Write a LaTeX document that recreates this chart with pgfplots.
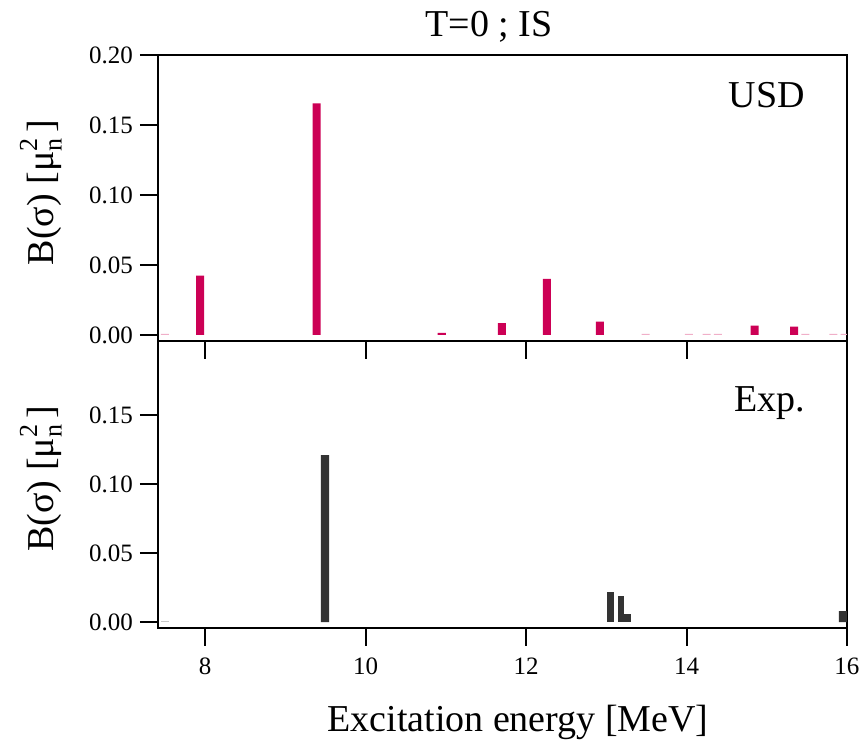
\documentclass[border=0pt]{standalone}
\usepackage{pgfplots}
\pgfplotsset{compat=1.18}
\usepackage{fontspec}
\setmainfont{Liberation Serif}

\definecolor{usd}{RGB}{204,0,85}
\definecolor{usdfaint}{RGB}{240,175,200}
\definecolor{expbar}{RGB}{51,51,51}
\definecolor{expfaint}{RGB}{200,200,200}

% B(sigma) [mu_n^2] with the 2 stacked over the n
\newcommand{\bunit}{B(σ) [μ\raisebox{-0.45ex}{\fontsize{13}{13}\selectfont n}\llap{\raisebox{0.95ex}{\fontsize{13}{13}\selectfont 2}}\,]}

\pgfplotsset{
  panel/.style={
    scale only axis, width=344.5pt,
    xmin=7.414, xmax=16,
    ymin=-0.0043,
    axis line style={line width=1.2pt},
    every tick/.style={black, line width=1pt},
    major tick length=9pt,
    tick align=outside,
    xtick={8,10,12,14,16},
    xtick pos=left, ytick pos=left,
    tick label style={font=\fontsize{12.5}{14}\selectfont},
    xticklabel style={yshift=-2.5pt},
    /pgf/number format/assume math mode=true,
    yticklabel style={/pgf/number format/.cd, fixed, fixed zerofill, precision=2},
    ylabel style={at={(axis description cs:-0.17,0.52)}, anchor=center,
      font=\fontsize{19}{21}\selectfont},
    ylabel={\bunit},
  },
}

\begin{document}
\begin{tikzpicture}
\useasboundingbox (-79pt,-58pt) rectangle (352.5pt,314pt);

% lower panel: experiment
\begin{axis}[panel,
  at={(0pt,0pt)}, anchor=south west,
  height=143.5pt,
  ymax=0.2036,
  ytick={0,0.05,0.1,0.15},
  xlabel={Excitation energy [MeV]},
  xlabel style={at={(axis description cs:0.5225,-0.361)}, anchor=base,
    font=\fontsize{19}{21}\selectfont},
]
\addplot[ybar, bar width=0.1, bar shift=0pt, fill=expbar, draw=none]
  coordinates {(9.495,0.121) (15.95,0.008)};
\addplot[ybar, bar width=0.09, bar shift=0pt, fill=expbar, draw=none]
  coordinates {(13.05,0.022)};
\addplot[ybar, bar width=0.07, bar shift=0pt, fill=expbar, draw=none]
  coordinates {(13.18,0.019)};
\addplot[ybar, bar width=0.08, bar shift=0pt, fill=expbar, draw=none]
  coordinates {(13.265,0.0058)};
\addplot[ybar, bar width=0.1, bar shift=0pt, fill=expfaint, draw=none]
  coordinates {(7.50,0.0007)};
\node[anchor=base east, font=\fontsize{19}{21}\selectfont]
  at (axis description cs:0.949,0.753) {Exp.};
\end{axis}

% upper panel: USD shell model
\begin{axis}[panel,
  at={(0pt,143.5pt)}, anchor=south west,
  height=143pt,
  ymax=0.2,
  ytick={0,0.05,0.1,0.15,0.2},
  xticklabels={},
]
\addplot[ybar, bar width=0.1, bar shift=0pt, fill=usd, draw=none]
  coordinates {(7.94,0.0424) (9.39,0.1655) (10.95,0.0015) (11.70,0.0084)
               (12.26,0.0400) (12.92,0.0096) (14.85,0.0067) (15.34,0.0060)};
\addplot[ybar, bar width=0.1, bar shift=0pt, fill=usdfaint, draw=none]
  coordinates {(7.50,0.0007) (13.49,0.0007) (14.03,0.0007) (14.25,0.0007)
               (14.39,0.0007) (15.48,0.0007) (15.83,0.0007) (15.97,0.0007)};
\node[anchor=base east, font=\fontsize{19}{21}\selectfont]
  at (axis description cs:0.949,0.818) {USD};
\end{axis}

\node[anchor=base, font=\fontsize{19}{21}\selectfont] at (165.5pt,295.5pt) {T=0 ; IS};
\end{tikzpicture}
\end{document}
